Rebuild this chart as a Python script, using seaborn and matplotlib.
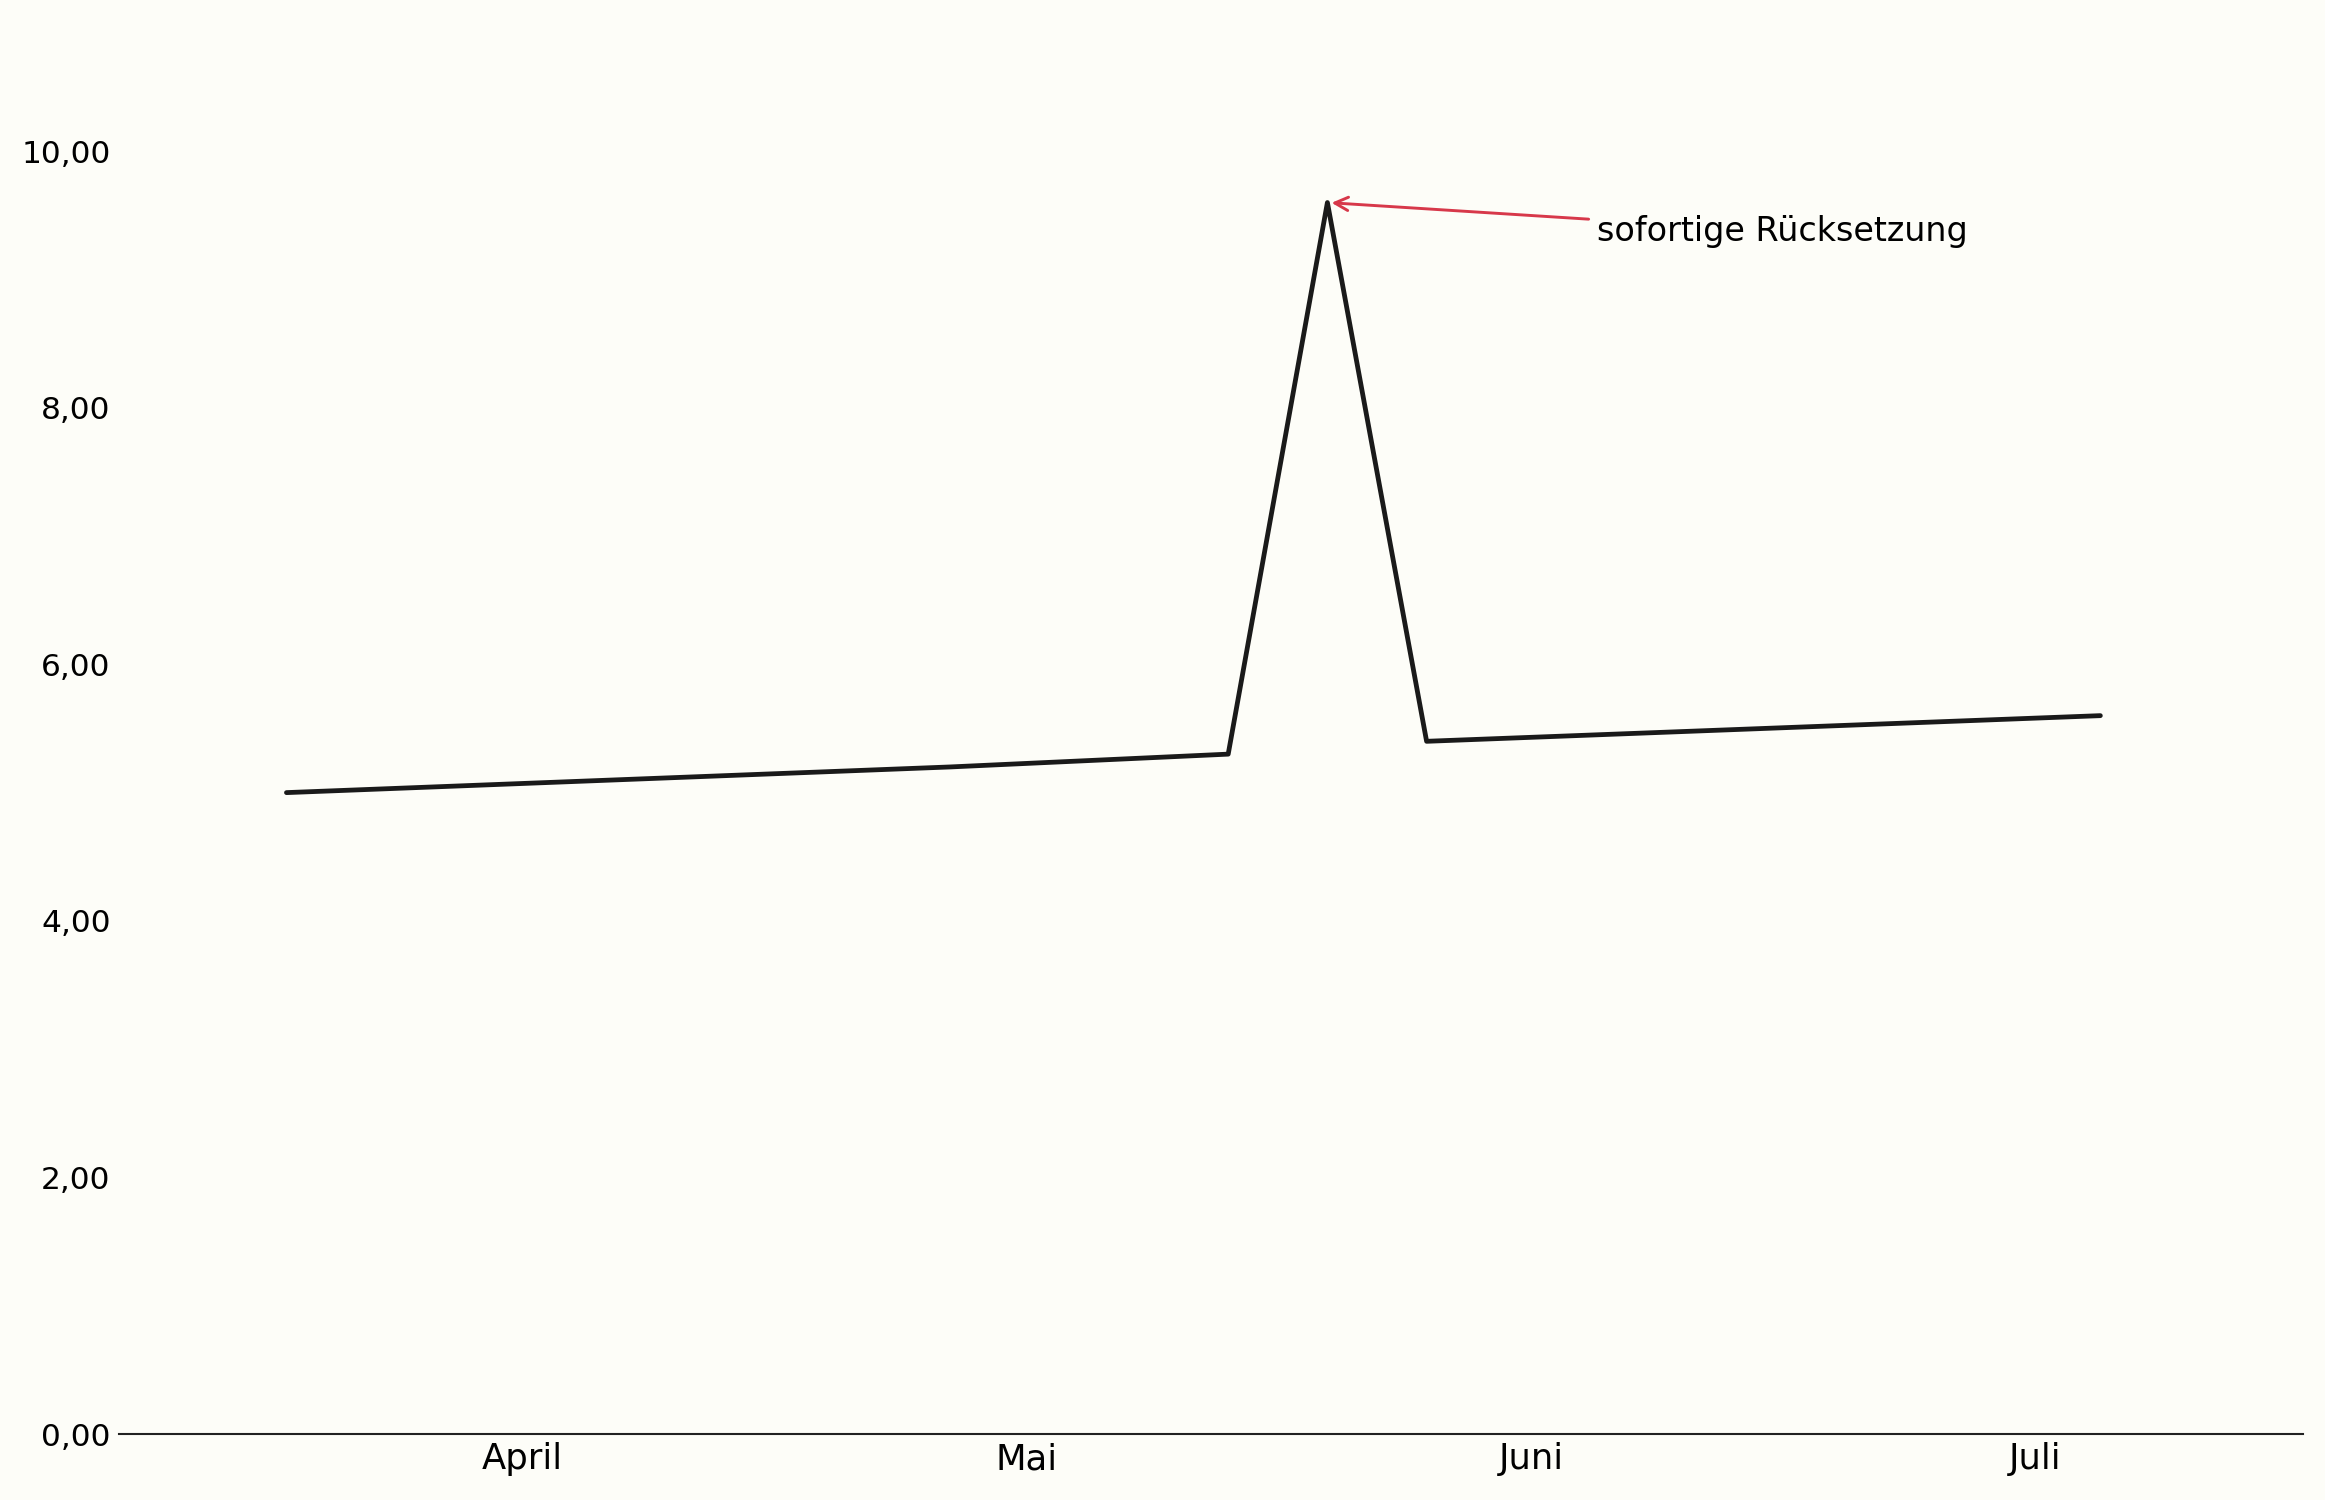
import pandas as pd
import seaborn as sns
import matplotlib.pyplot as plt

# data
datum = ["2024-04-01 17:00", "2024-05-11 20:00", "2024-05-28 16:00",
         "2024-06-03 16:00", "2024-06-09 16:00", "2024-07-20 10:00"]
wert = [5.0, 5.2, 5.3, 9.6, 5.4, 5.6]
monate = ["April", "Mai", "Juni", "Juli"]
monat_ticks = ["2024-04-16 00:00", "2024-05-16 12:00", "2024-06-16 00:00", "2024-07-16 12:00"]
y_ticks = [0, 2, 4, 6, 8, 10]

df = pd.DataFrame({"datum": pd.to_datetime(datum, format="%Y-%m-%d %H:%M"), "wert": wert})

sns.set_style("white")
plt.rcParams["font.family"] = ["DejaVu Sans"]
bg = "#fdfdf8"

fig = plt.figure(figsize=(15.5, 10), dpi=150, facecolor=bg)
ax = fig.add_axes([0.0512, 0.044, 0.9393, 0.9407])
ax.set_facecolor(bg)

sns.lineplot(data=df, x="datum", y="wert", color="#1a1a1a", linewidth=2.3, ax=ax)

ax.set_xlim(pd.Timestamp("2024-03-22 14:00"), pd.Timestamp("2024-08-01 16:00"))
ax.set_ylim(0, 11)
ax.set_xticks(pd.to_datetime(monat_ticks, format="%Y-%m-%d %H:%M"))
ax.set_xticklabels(monate, fontsize=17, color="black")
ax.set_yticks(y_ticks)
ax.set_yticklabels([f"{v:.2f}".replace(".", ",") for v in y_ticks], fontsize=15, color="black")
ax.tick_params(length=0, pad=4)
ax.set_xlabel("")
ax.set_ylabel("")

for s in ["left", "top", "right"]:
    ax.spines[s].set_visible(False)
ax.spines["bottom"].set_color("#222222")
ax.spines["bottom"].set_linewidth(1.0)

ax.annotate("sofortige Rücksetzung",
            xy=(df["datum"][3], 9.6),
            xytext=(pd.Timestamp("2024-06-20"), 9.3),
            fontsize=16, color="black", ha="left", va="baseline",
            arrowprops=dict(arrowstyle="->", color="#d7384a", linewidth=1.4))

fig.savefig("out.png", dpi=150, facecolor=bg)
